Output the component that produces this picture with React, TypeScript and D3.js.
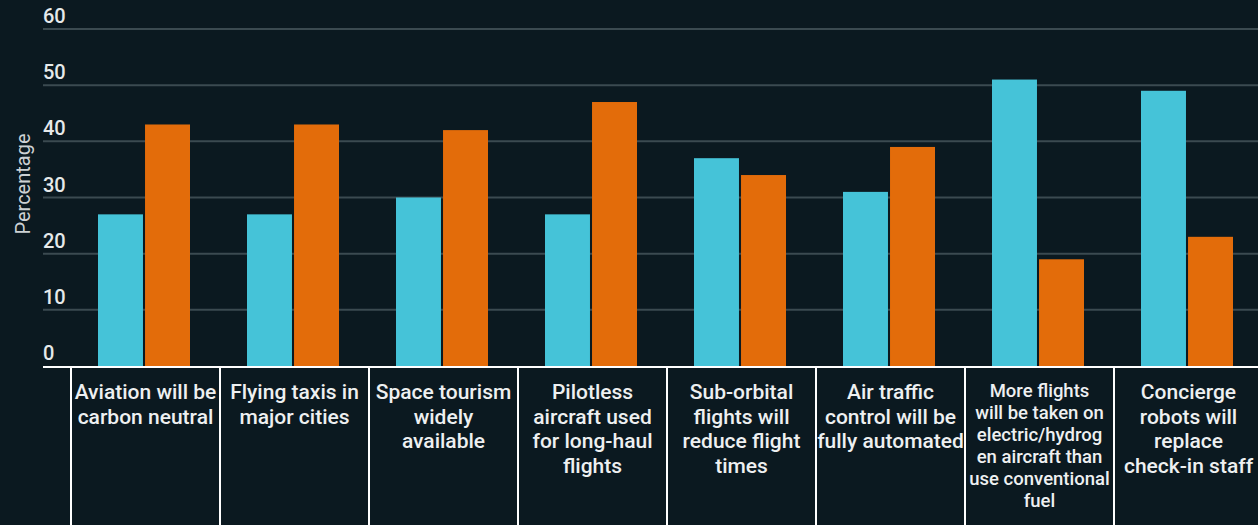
import React from "react";
import * as d3 from "d3";

const categories: string[][] = [
  ["Aviation will be", "carbon neutral"],
  ["Flying taxis in", "major cities"],
  ["Space tourism", "widely", "available"],
  ["Pilotless", "aircraft used", "for long-haul", "flights"],
  ["Sub-orbital", "flights will", "reduce flight", "times"],
  ["Air traffic", "control will be", "fully automated"],
  ["More flights", "will be taken on", "electric/hydrog", "en aircraft than", "use conventional", "fuel"],
  ["Concierge", "robots will", "replace", "check-in staff"],
];
const seriesA = [27, 27, 30, 27, 37, 31, 51, 49];
const seriesB = [43, 43, 42, 47, 34, 39, 19, 23];
const yTicks = [0, 10, 20, 30, 40, 50, 60];
const seriesNames = ["A", "B"];
const colors = ["#45c3d8", "#e36c0a"];

const W = 1258;
const H = 525;

export default function App() {
  const ids = categories.map((_, i) => String(i));
  const x = d3.scaleBand<string>().domain(ids).range([70, 1262]).paddingInner(0).paddingOuter(0);
  const inner = d3.scaleBand<string>().domain(seriesNames).range([28, 120]).paddingInner(2 / 46);
  const y = d3.scaleLinear().domain([0, 60]).range([366, 29]);
  const font = "Roboto, 'Noto Sans', sans-serif";

  return (
    <svg width={W} height={H} style={{ position: "absolute", left: 0, top: 0, background: "#0b1920" }}>
      <rect x={0} y={0} width={W} height={H} fill="#0b1920" />
      {yTicks.filter((t) => t > 0).map((t) => (
        <line key={"g" + t} x1={43} x2={W} y1={y(t)} y2={y(t)} stroke="#3b4a50" strokeWidth={2} />
      ))}
      {yTicks.map((t) => (
        <text key={"t" + t} x={43} y={y(t) - 6} fill="#e6e9ea" fontFamily={font} fontSize={20} fontWeight={500}>
          {t}
        </text>
      ))}
      <text
        transform={`translate(30,184) rotate(-90)`}
        textAnchor="middle"
        fill="#cdd2d4"
        fontFamily={font}
        fontSize={20}
      >
        Percentage
      </text>
      {ids.map((id, i) => (
        <g key={"b" + id} transform={`translate(${x(id)},0)`}>
          {[seriesA[i], seriesB[i]].map((v, j) => (
            <rect
              key={j}
              x={inner(seriesNames[j])}
              y={y(v)}
              width={inner.bandwidth()}
              height={y(0) - y(v)}
              fill={colors[j]}
            />
          ))}
        </g>
      ))}
      <line x1={43} x2={W} y1={367} y2={367} stroke="#ffffff" strokeWidth={2} />
      {ids.map((id) => (
        <line key={"d" + id} x1={(x(id) as number) + 1} x2={(x(id) as number) + 1} y1={367} y2={H} stroke="#ffffff" strokeWidth={2} />
      ))}
      {ids.map((id, i) => {
        const lines = categories[i];
        const small = lines.length > 4;
        const fs = small ? 18.5 : 21;
        const lh = small ? 22 : 24.5;
        const y0 = small ? 397 : 399;
        const cx = (x(id) as number) + 1 + x.bandwidth() / 2;
        return (
          <text key={"l" + id} textAnchor="middle" fill="#eef0f1" fontFamily={font} fontSize={fs} fontWeight={500}>
            {lines.map((ln, k) => (
              <tspan key={k} x={cx} y={y0 + k * lh}>
                {ln}
              </tspan>
            ))}
          </text>
        );
      })}
    </svg>
  );
}
